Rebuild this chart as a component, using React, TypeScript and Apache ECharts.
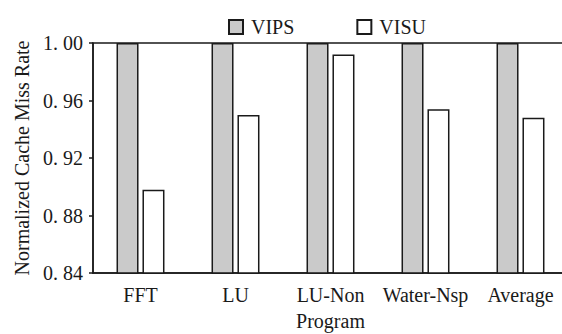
import React, { useEffect, useRef } from "react";
import * as echarts from "echarts";

const categories = ["FFT", "LU", "LU-Non", "Water-Nsp", "Average"];
const vipsValues = [1.0, 1.0, 1.0, 1.0, 1.0];
const visuValues = [0.898, 0.95, 0.992, 0.954, 0.948];
const yTicks = { min: 0.84, max: 1.0, interval: 0.04 };

const FONT = "'Liberation Serif', 'Times New Roman', serif";
const INK = "#1a1a1a";

export default function App() {
  const ref = useRef<HTMLDivElement>(null);
  useEffect(() => {
    if (!ref.current) return;
    const chart = echarts.init(ref.current, undefined, { renderer: "svg" });
    chart.setOption({
      animation: false,
      backgroundColor: "#ffffff",
      textStyle: { fontFamily: FONT, color: INK },
      legend: {
        left: 223,
        top: 12,
        icon: "rect",
        itemWidth: 14,
        itemHeight: 14,
        itemGap: 62,
        textStyle: { fontFamily: FONT, fontSize: 20, color: INK, padding: [0, 0, 0, 3] },
        data: ["VIPS", "VISU"],
      },
      grid: {
        left: 93,
        right: -6,
        top: 43,
        bottom: 61,
        outerBoundsMode: "none",
        containLabel: false,
        show: true,
        borderColor: INK,
        borderWidth: 1.5,
        backgroundColor: "transparent",
      },
      xAxis: {
        type: "category",
        data: categories,
        name: "Program",
        nameLocation: "middle",
        nameGap: 38,
        nameTextStyle: { fontFamily: FONT, fontSize: 20, color: INK },
        axisLine: { show: true, lineStyle: { color: INK, width: 1.5 } },
        axisTick: { show: false },
        axisLabel: { fontFamily: FONT, fontSize: 20, color: INK, margin: 12, interval: 0 },
      },
      yAxis: {
        type: "value",
        min: yTicks.min,
        max: yTicks.max,
        interval: yTicks.interval,
        name: "Normalized Cache Miss Rate",
        nameLocation: "middle",
        nameGap: 61,
        nameTextStyle: { fontFamily: FONT, fontSize: 20, color: INK },
        axisLine: { show: true, lineStyle: { color: INK, width: 1.5 } },
        axisTick: { show: true, inside: false, length: 4, lineStyle: { color: INK, width: 1.5 } },
        splitLine: { show: false },
        axisLabel: {
          fontFamily: FONT,
          fontSize: 20,
          color: INK,
          margin: 10,
          formatter: (v: number) => v.toFixed(2).replace(".", ". "),
        },
      },
      series: [
        {
          name: "VIPS",
          type: "bar",
          data: vipsValues,
          barWidth: 22,
          barGap: "18%",
          itemStyle: { color: "#cacaca", borderColor: INK, borderWidth: 1.5 },
        },
        {
          name: "VISU",
          type: "bar",
          data: visuValues,
          barWidth: 22,
          barGap: "18%",
          itemStyle: { color: "#ffffff", borderColor: INK, borderWidth: 1.5 },
        },
      ],
    });
    return () => chart.dispose();
  }, []);
  return (
    <div
      ref={ref}
      style={{ position: "fixed", left: 0, top: 0, width: 562, height: 334 }}
    />
  );
}
